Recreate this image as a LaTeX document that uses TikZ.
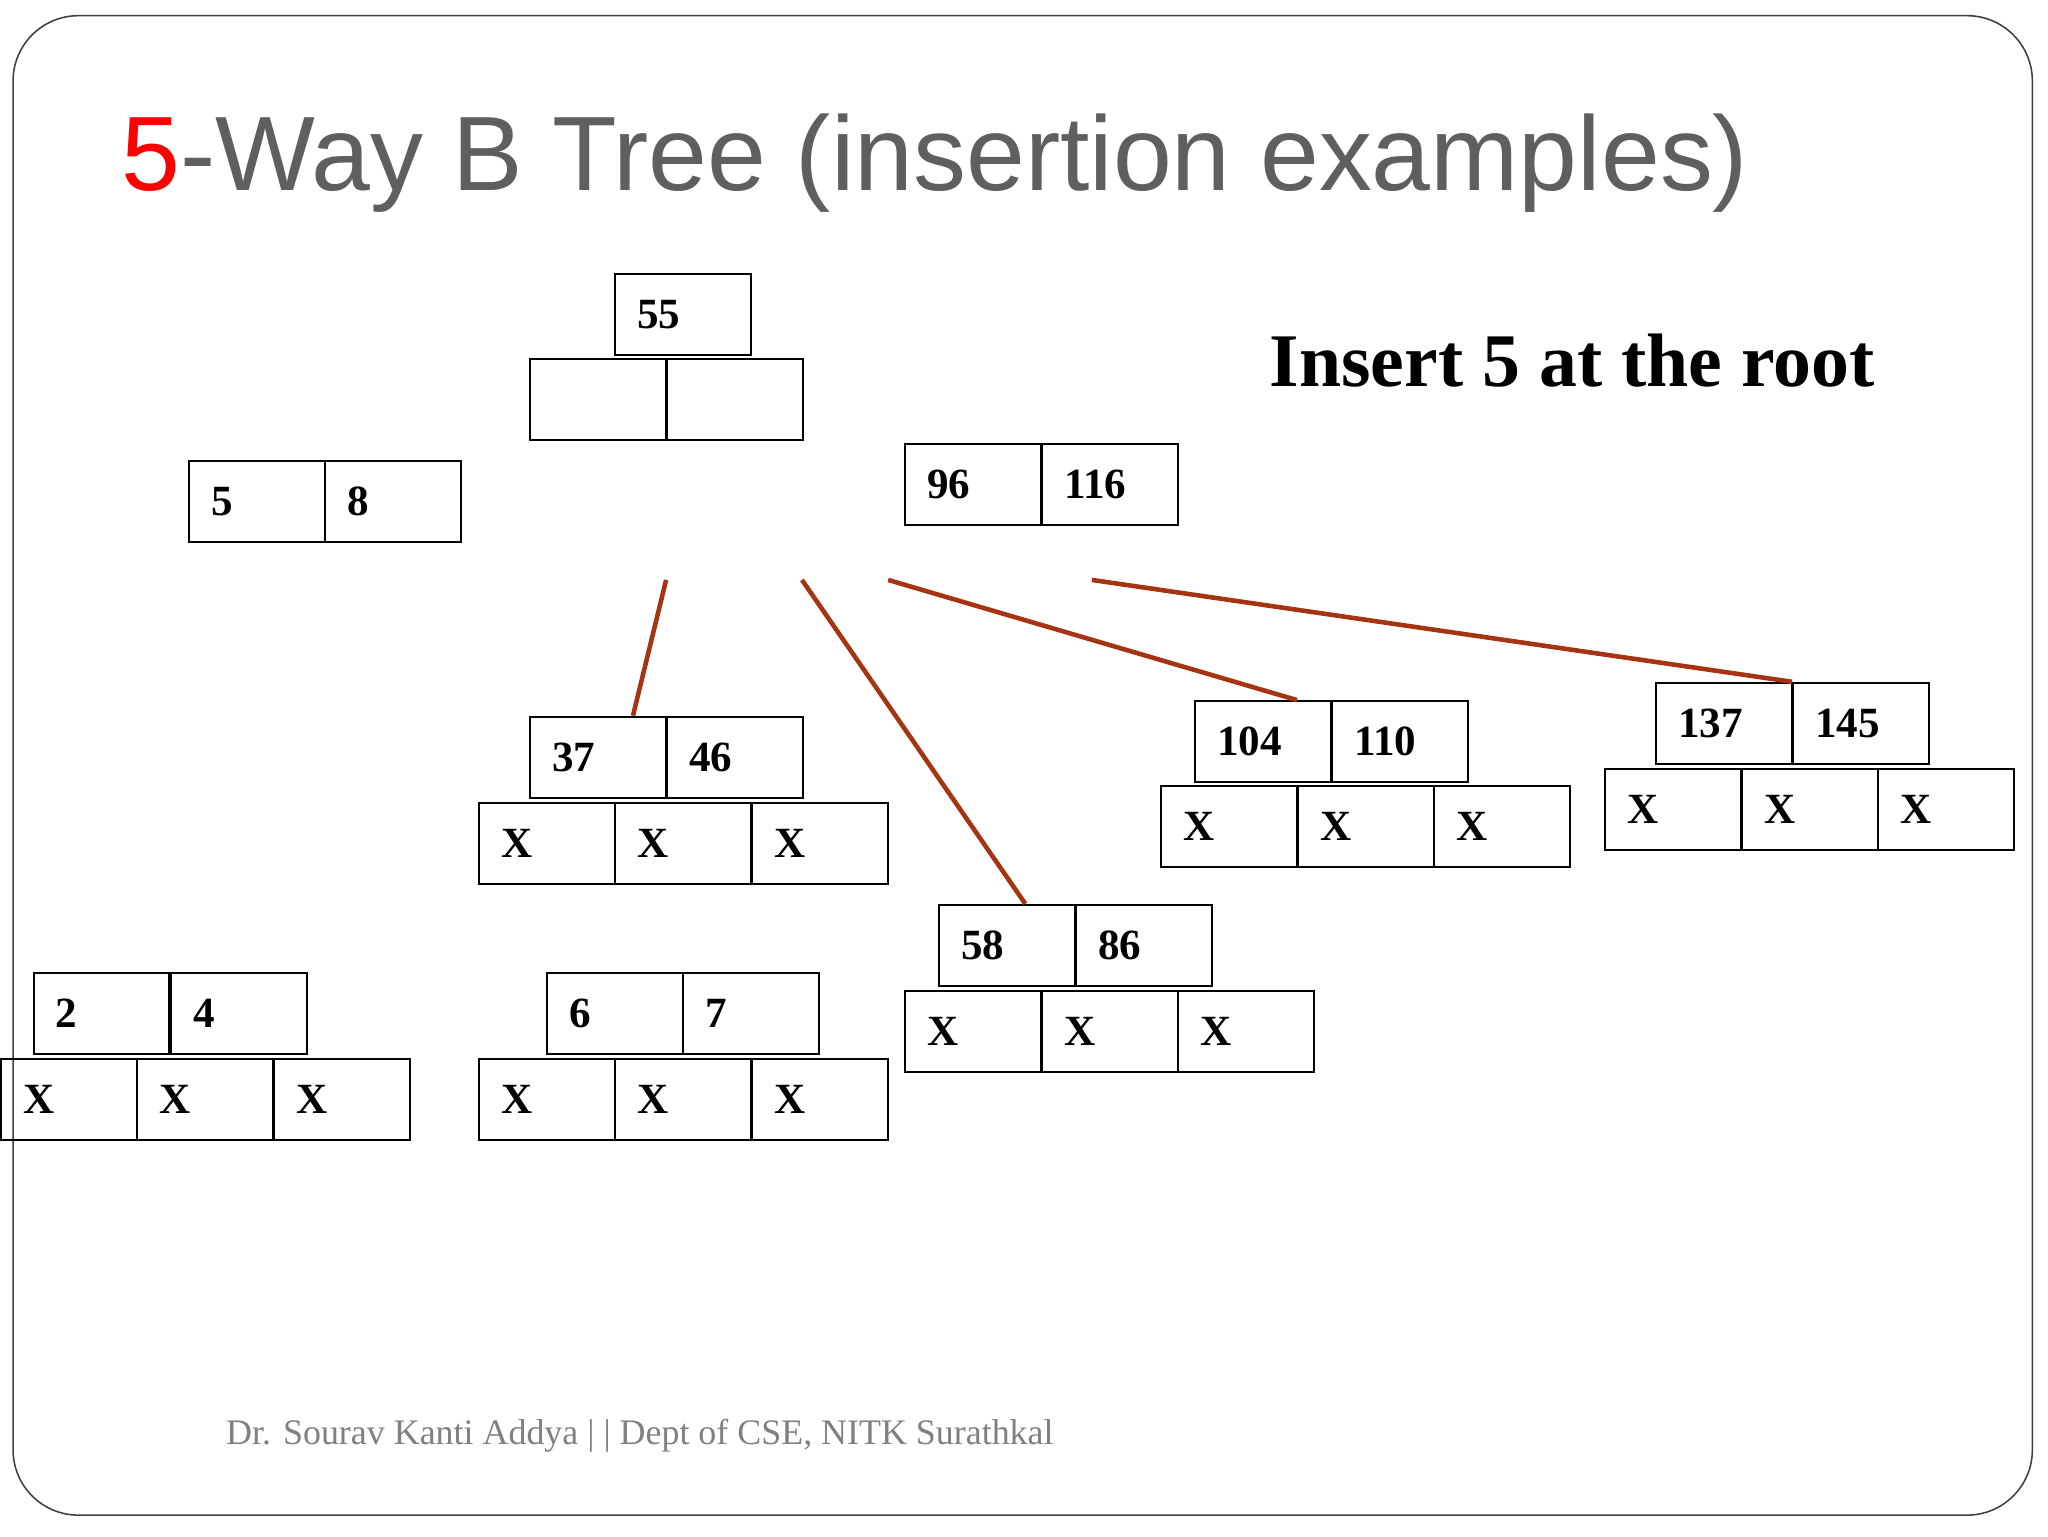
\documentclass[tikz,border=0pt]{standalone}
\usepackage{fontspec}
\setmainfont{Liberation Serif}
\newfontfamily\titlefont{Liberation Sans}
\begin{document}
\begin{tikzpicture}[x=1pt,y=-1pt,
  cell/.style={draw=black,line width=1.6pt,anchor=north west,minimum height=62pt,
    text width=70pt,inner xsep=17pt,align=left,font=\fontsize{33}{33}\selectfont\bfseries},
  link/.style={draw={rgb,255:red,165;green,52;blue,18},line width=3.5pt}]
\useasboundingbox (0,0) rectangle (1568,1176);
\draw[black!75,line width=1.2pt,rounded corners=50pt] (10,12) rectangle (1556,1160);
\node[anchor=base west,inner sep=0,font=\titlefont\fontsize{81}{81}\selectfont,text={rgb,255:red,95;green,95;blue,95}] (title) at (93,146) {\textcolor{red}{5}-Way B Tree (insertion examples)};
\node[anchor=base west,inner sep=0,font=\fontsize{58}{58}\selectfont\bfseries] (ins) at (972,296) {Insert 5 at the root};
\node[anchor=base west,inner sep=0,font=\fontsize{27.5}{27.5}\selectfont,text=gray] (foot) at (173,1106) {Dr. Sourav Kanti Addya | | Dept of CSE, NITK Surathkal};
% root
\node[cell] (r55) at (470,209) {55};
\node[cell] (rc1) at (405,274) {};
\node[cell] (rc2) at (510,274) {};
\node[cell] (a5) at (144,352) {5};
\node[cell] (a8) at (248,352) {8};
\node[cell] (b96) at (692,339) {96};
\node[cell] (b116) at (797,339) {116};
% 37 46
\node[cell] (c37) at (405,548) {37};
\node[cell] (c46) at (510,548) {46};
\node[cell] (cx1) at (366,614) {X};
\node[cell] (cx2) at (470,614) {X};
\node[cell] (cx3) at (575,614) {X};
% 104 110
\node[cell] (d104) at (914,536) {104};
\node[cell] (d110) at (1019,536) {110};
\node[cell] (dx1) at (888,601) {X};
\node[cell] (dx2) at (993,601) {X};
\node[cell] (dx3) at (1097,601) {X};
% 137 145
\node[cell] (e137) at (1267,522) {137};
\node[cell] (e145) at (1372,522) {145};
\node[cell] (ex1) at (1228,588) {X};
\node[cell] (ex2) at (1333,588) {X};
\node[cell] (ex3) at (1437,588) {X};
% 58 86
\node[cell] (f58) at (718,692) {58};
\node[cell] (f86) at (823,692) {86};
\node[cell] (fx1) at (692,758) {X};
\node[cell] (fx2) at (797,758) {X};
\node[cell] (fx3) at (901,758) {X};
% 2 4
\node[cell] (g2) at (25,744) {2};
\node[cell] (g4) at (130,744) {4};
\node[cell] (gx1) at (0,810) {X};
\node[cell] (gx2) at (104,810) {X};
\node[cell] (gx3) at (209,810) {X};
% 6 7
\node[cell] (h6) at (418,744) {6};
\node[cell] (h7) at (522,744) {7};
\node[cell] (hx1) at (366,810) {X};
\node[cell] (hx2) at (470,810) {X};
\node[cell] (hx3) at (575,810) {X};
% links
\coordinate (s1) at (510,444);
\coordinate (s2) at (614,444);
\coordinate (s3) at (680,444);
\coordinate (s4) at (836,444);
\draw[link] (s1) -- ([xshift=-26pt]c37.north east);
\draw[link] (s2) -- ([xshift=-38pt]f86.north west);
\draw[link] (s3) -- ([xshift=-26pt]d110.north west);
\draw[link] (s4) -- (e145.north west);
\end{tikzpicture}
\end{document}
